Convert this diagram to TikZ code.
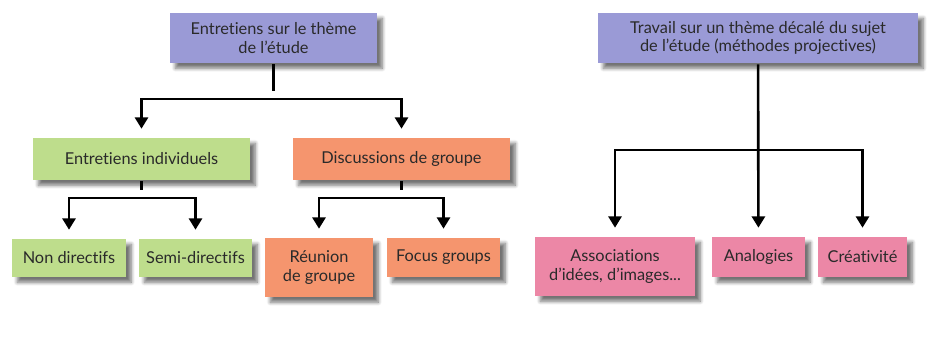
\documentclass[tikz,border=0pt]{standalone}
\usepackage{fontspec}
\setmainfont{Lato}[Ligatures=NoCommon]
\usetikzlibrary{arrows.meta,positioning,shadows.blur}

\definecolor{bleu}{HTML}{9A9AD6}
\definecolor{vert}{HTML}{BEDD8C}
\definecolor{orange}{HTML}{F5956E}
\definecolor{rose}{HTML}{EC87A6}
\definecolor{texte}{HTML}{2A2A2A}

\begin{document}
\begin{tikzpicture}[
    x = 0.02cm, y = -0.02cm, % one unit = one pixel of the scan
    > = {Triangle[length=6.5pt,width=7.5pt]}, % arrow head style
    shorten > = 8*0.02cm, % gap between arrow head and box
    line width = 1.5pt,
    box/.style = {
        align = center,
        inner sep = 2pt,
        text = texte,
        font = \fontsize{9.3}{10.3}\selectfont,
        blur shadow = {shadow xshift=3pt, shadow yshift=-3pt,
                       shadow blur steps=6, shadow opacity=55}
    },
    theme/.style = {box, fill = bleu},
    indiv/.style = {box, fill = vert},
    groupe/.style = {box, fill = orange},
    projec/.style = {box, fill = rose}
    ]
    \useasboundingbox (0,0) rectangle (935,356);

    % left tree
    \node[theme, minimum width=4.14cm, minimum height=1.0cm] (etude) at (273.5,38)
        {Entretiens sur le thème\\de l’étude};
    \node[indiv, minimum width=4.34cm, minimum height=0.84cm] (individuels) at (141.5,159)
        {Entretiens individuels};
    \node[groupe, minimum width=4.34cm, minimum height=0.84cm] (discussions) at (401.5,159)
        {Discussions de groupe};
    \node[indiv, minimum width=2.28cm, minimum height=0.76cm] (nondir) at (69,258)
        {Non directifs};
    \node[indiv, minimum width=2.26cm, minimum height=0.76cm] (semidir) at (195.5,258)
        {Semi-directifs};
    \node[groupe, minimum width=2.16cm, minimum height=1.18cm] (reunion) at (319,267.5)
        {Réunion\\de groupe};
    \node[groupe, minimum width=2.26cm, minimum height=0.78cm] (focus) at (443.5,257.5)
        {Focus groups};

    % right tree
    \node[theme, minimum width=6.4cm, minimum height=1.0cm] (decale) at (758,38)
        {Travail sur un thème décalé du sujet\\de l’étude (méthodes projectives)};
    \node[projec, minimum width=3.2cm, minimum height=1.18cm] (assoc) at (615,266.5)
        {Associations\\d’idées, d’images...};
    \node[projec, minimum width=1.86cm, minimum height=0.8cm] (analog) at (758.5,257)
        {Analogies};
    \node[projec, minimum width=1.78cm, minimum height=0.8cm] (creat) at (862.5,257)
        {Créativité};

    % branch points
    \coordinate (b1) at (etude.south |- 0,99);
    \coordinate (b2) at (individuels.south |- 0,198);
    \coordinate (b3) at (discussions.south |- 0,198);
    \coordinate (b4) at (decale.south |- 0,150);

    \draw (etude) -- (b1);
    \draw[->] (b1) -| (individuels);
    \draw[->] (b1) -| (discussions);

    \draw (individuels) -- (b2);
    \draw[->] (b2) -| (nondir);
    \draw[->] (b2) -| (semidir);

    \draw (discussions) -- (b3);
    \draw[->] (b3) -| (reunion);
    \draw[->] (b3) -| (focus);

    \draw[->] (decale) -- (analog);
    \draw[->] (b4) -| (assoc);
    \draw[->] (b4) -| (creat);
\end{tikzpicture}
\end{document}
